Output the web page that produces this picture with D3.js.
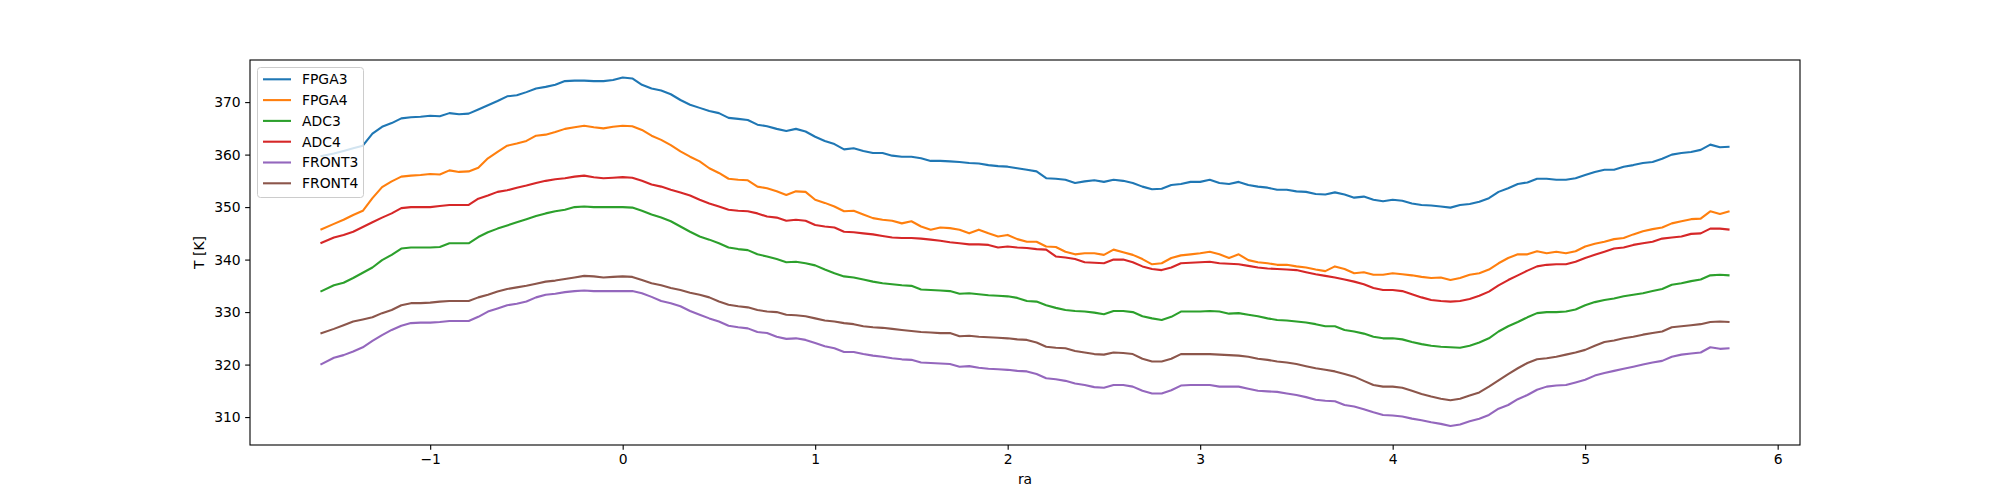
<!DOCTYPE html>
<html>
<head>
<meta charset="utf-8">
<script src="https://cdn.jsdelivr.net/npm/d3@7"></script>
<style>
  body { margin: 0; background: #fff; }
  svg { font-family: "DejaVu Sans", sans-serif; }
</style>
</head>
<body>
<svg id="viz"></svg>
<script>
let width = 2000;
let height = 500;
let margin = { left: 250, right: 200, top: 60, bottom: 55 };

// right ascension samples
const ra = [-1.57, -1.50, -1.45, -1.40, -1.35, -1.30, -1.25, -1.20, -1.15, -1.10, -1.05, -1.00, -0.95, -0.90, -0.85, -0.80, -0.75, -0.70, -0.65, -0.60, -0.55, -0.50, -0.45, -0.40, -0.35, -0.30, -0.25, -0.20, -0.15, -0.10, -0.05,
    0.00, 0.05, 0.10, 0.15, 0.20, 0.25, 0.30, 0.35, 0.40, 0.45, 0.50, 0.55, 0.60, 0.65, 0.70, 0.75, 0.80, 0.85, 0.90, 0.95,
    1.00, 1.05, 1.10, 1.15, 1.20, 1.25, 1.30, 1.35, 1.40, 1.45, 1.50, 1.55, 1.60, 1.65, 1.70, 1.75, 1.80, 1.85, 1.90, 1.95,
    2.00, 2.05, 2.10, 2.15, 2.20, 2.25, 2.30, 2.35, 2.40, 2.45, 2.50, 2.55, 2.60, 2.65, 2.70, 2.75, 2.80, 2.85, 2.90, 2.95,
    3.00, 3.05, 3.10, 3.15, 3.20, 3.25, 3.30, 3.35, 3.40, 3.45, 3.50, 3.55, 3.60, 3.65, 3.70, 3.75, 3.80, 3.85, 3.90, 3.95,
    4.00, 4.05, 4.10, 4.15, 4.20, 4.25, 4.30, 4.35, 4.40, 4.45, 4.50, 4.55, 4.60, 4.65, 4.70, 4.75, 4.80, 4.85, 4.90, 4.95,
    5.00, 5.05, 5.10, 5.15, 5.20, 5.25, 5.30, 5.35, 5.40, 5.45, 5.50, 5.55, 5.60, 5.65, 5.70, 5.75];

const fpga3 = [359.7, 360.2, 360.7, 361.2, 361.7, 364.0, 365.3, 366.0, 366.9, 367.1, 367.2, 367.4, 367.3, 367.9, 367.7, 367.8, 368.6, 369.4, 370.2, 371.1, 371.3, 371.9, 372.6, 372.9, 373.3, 374.0, 374.1, 374.1, 374.0, 374.0, 374.2,
    374.7, 374.5, 373.3, 372.6, 372.2, 371.5, 370.4, 369.5, 368.9, 368.3, 367.9, 367.0, 366.8, 366.6, 365.7, 365.4, 364.9, 364.5, 364.9, 364.4,
    363.4, 362.6, 362.0, 361.0, 361.2, 360.7, 360.3, 360.3, 359.8, 359.6, 359.6, 359.3, 358.8, 358.8, 358.7, 358.6, 358.4, 358.3, 358.0, 357.8,
    357.7, 357.4, 357.1, 356.8, 355.5, 355.4, 355.2, 354.6, 354.9, 355.1, 354.8, 355.2, 355.0, 354.6, 353.9, 353.4, 353.5, 354.2, 354.4, 354.8,
    354.8, 355.2, 354.6, 354.4, 354.8, 354.2, 353.9, 353.7, 353.3, 353.3, 353.0, 352.9, 352.5, 352.4, 352.8, 352.4, 351.8, 352.0, 351.4, 351.1,
    351.4, 351.2, 350.7, 350.4, 350.3, 350.1, 349.9, 350.4, 350.6, 351.0, 351.7, 352.9, 353.6, 354.4, 354.7, 355.4, 355.4, 355.2, 355.2, 355.5,
    356.1, 356.7, 357.1, 357.1, 357.7, 358.0, 358.4, 358.6, 359.2, 360.0, 360.3, 360.5, 360.9, 361.9, 361.4, 361.5];

const fpga4 = [345.7, 346.8, 347.6, 348.5, 349.3, 351.7, 353.8, 354.9, 355.8, 356.0, 356.1, 356.3, 356.2, 357.0, 356.7, 356.8, 357.5, 359.3, 360.5, 361.7, 362.1, 362.6, 363.6, 363.8, 364.3, 364.9, 365.2, 365.5, 365.2, 365.0, 365.3,
    365.5, 365.4, 364.7, 363.6, 362.8, 361.8, 360.6, 359.6, 358.7, 357.4, 356.5, 355.4, 355.2, 355.1, 353.9, 353.6, 353.0, 352.3, 353.0, 352.9,
    351.4, 350.8, 350.1, 349.2, 349.3, 348.6, 347.9, 347.6, 347.4, 346.9, 347.3, 346.3, 345.7, 346.1, 346.0, 345.7, 345.0, 345.7, 345.0, 344.4,
    344.7, 343.9, 343.4, 343.4, 342.5, 342.4, 341.5, 341.0, 341.2, 341.2, 340.9, 341.9, 341.4, 340.9, 340.1, 339.1, 339.3, 340.3, 340.8, 341.0,
    341.2, 341.5, 341.0, 340.3, 341.0, 339.9, 339.5, 339.3, 339.0, 339.0, 338.7, 338.5, 338.1, 337.8, 338.7, 338.2, 337.4, 337.6, 337.1, 337.1,
    337.4, 337.2, 337.0, 336.7, 336.5, 336.6, 336.1, 336.5, 337.1, 337.4, 338.1, 339.3, 340.3, 341.0, 341.0, 341.6, 341.2, 341.5, 341.2, 341.6,
    342.5, 343.0, 343.4, 343.9, 344.1, 344.8, 345.4, 345.8, 346.1, 346.9, 347.3, 347.7, 347.8, 349.2, 348.7, 349.2];

const adc3 = [333.9, 335.1, 335.6, 336.5, 337.5, 338.5, 339.9, 340.9, 342.1, 342.3, 342.3, 342.3, 342.4, 343.1, 343.1, 343.1, 344.3, 345.2, 345.9, 346.5, 347.1, 347.7, 348.3, 348.8, 349.2, 349.5, 350.0, 350.1, 350.0, 350.0, 350.0,
    350.0, 349.9, 349.3, 348.6, 348.0, 347.3, 346.3, 345.3, 344.4, 343.8, 343.1, 342.3, 342.0, 341.8, 341.0, 340.6, 340.1, 339.5, 339.6, 339.3,
    338.9, 338.1, 337.4, 336.8, 336.6, 336.2, 335.8, 335.5, 335.3, 335.1, 335.0, 334.3, 334.2, 334.1, 334.0, 333.5, 333.6, 333.4, 333.2, 333.1,
    333.0, 332.7, 332.1, 332.0, 331.3, 330.8, 330.4, 330.2, 330.1, 329.9, 329.6, 330.2, 330.2, 330.0, 329.2, 328.8, 328.5, 329.1, 330.1, 330.1,
    330.1, 330.2, 330.1, 329.7, 329.8, 329.5, 329.2, 328.8, 328.5, 328.4, 328.2, 328.0, 327.7, 327.3, 327.3, 326.6, 326.3, 325.9, 325.3, 325.0,
    325.0, 324.8, 324.3, 323.9, 323.6, 323.4, 323.3, 323.2, 323.6, 324.2, 325.0, 326.3, 327.3, 328.1, 329.0, 329.8, 330.0, 330.0, 330.1, 330.5,
    331.3, 331.9, 332.3, 332.6, 333.0, 333.3, 333.6, 334.0, 334.4, 335.2, 335.5, 335.9, 336.2, 337.0, 337.1, 337.0];

const adc4 = [343.1, 344.2, 344.7, 345.3, 346.2, 347.1, 348.0, 348.8, 349.8, 350.0, 350.0, 350.0, 350.2, 350.4, 350.4, 350.4, 351.6, 352.2, 352.9, 353.2, 353.7, 354.1, 354.6, 355.0, 355.3, 355.5, 355.8, 356.0, 355.7, 355.5, 355.6,
    355.7, 355.6, 355.0, 354.3, 353.9, 353.3, 352.8, 352.2, 351.4, 350.7, 350.1, 349.5, 349.3, 349.2, 348.8, 348.2, 348.0, 347.4, 347.6, 347.4,
    346.6, 346.3, 346.1, 345.3, 345.2, 345.0, 344.8, 344.5, 344.2, 344.1, 344.1, 344.0, 343.8, 343.6, 343.3, 343.1, 342.9, 342.9, 342.8, 342.3,
    342.5, 342.3, 342.2, 342.0, 341.9, 340.6, 340.4, 340.1, 339.5, 339.4, 339.3, 340.0, 340.0, 339.5, 338.7, 338.2, 338.0, 338.5, 339.3, 339.4,
    339.5, 339.6, 339.3, 339.2, 339.1, 338.8, 338.5, 338.3, 338.2, 338.1, 338.0, 337.6, 337.2, 336.9, 336.6, 336.2, 335.8, 335.3, 334.6, 334.2,
    334.2, 334.0, 333.4, 332.8, 332.3, 332.1, 332.0, 332.1, 332.5, 333.1, 333.9, 335.1, 336.1, 337.0, 337.9, 338.7, 339.0, 339.1, 339.1, 339.6,
    340.3, 340.9, 341.5, 342.1, 342.3, 342.8, 343.1, 343.4, 344.0, 344.2, 344.4, 344.9, 345.0, 345.9, 345.9, 345.7];

const front3 = [320.0, 321.3, 321.8, 322.5, 323.3, 324.5, 325.6, 326.6, 327.4, 327.9, 328.0, 328.0, 328.1, 328.3, 328.3, 328.3, 329.1, 330.1, 330.7, 331.3, 331.6, 332.0, 332.8, 333.3, 333.5, 333.8, 334.0, 334.1, 334.0, 334.0, 334.0,
    334.0, 334.0, 333.6, 332.9, 332.1, 331.7, 331.1, 330.2, 329.5, 328.8, 328.2, 327.4, 327.1, 326.9, 326.2, 326.0, 325.3, 324.9, 325.0, 324.7,
    324.1, 323.5, 323.1, 322.4, 322.4, 322.0, 321.7, 321.5, 321.2, 321.0, 320.9, 320.4, 320.3, 320.2, 320.1, 319.6, 319.7, 319.4, 319.2, 319.1,
    319.0, 318.8, 318.7, 318.2, 317.4, 317.2, 316.9, 316.4, 316.1, 315.7, 315.6, 316.1, 316.1, 315.8, 315.0, 314.5, 314.5, 315.1, 316.0, 316.1,
    316.1, 316.1, 315.8, 315.8, 315.8, 315.4, 315.0, 314.9, 314.8, 314.5, 314.2, 313.8, 313.3, 313.1, 313.0, 312.3, 312.0, 311.5, 310.9, 310.4,
    310.3, 310.1, 309.7, 309.4, 309.0, 308.7, 308.3, 308.6, 309.2, 309.7, 310.4, 311.6, 312.3, 313.4, 314.2, 315.2, 315.8, 316.0, 316.1, 316.6,
    317.1, 317.9, 318.4, 318.8, 319.2, 319.6, 320.0, 320.4, 320.7, 321.5, 321.9, 322.1, 322.3, 323.3, 323.0, 323.1];

const front4 = [325.9, 326.8, 327.5, 328.2, 328.6, 329.0, 329.8, 330.4, 331.3, 331.7, 331.7, 331.8, 332.0, 332.1, 332.1, 332.1, 332.8, 333.3, 333.9, 334.4, 334.7, 335.0, 335.4, 335.8, 336.0, 336.3, 336.6, 336.9, 336.8, 336.6, 336.7,
    336.8, 336.7, 336.1, 335.5, 335.1, 334.6, 334.2, 333.7, 333.3, 332.8, 332.0, 331.4, 331.1, 330.9, 330.4, 330.1, 330.0, 329.5, 329.4, 329.2,
    328.8, 328.4, 328.2, 327.9, 327.7, 327.3, 327.1, 327.0, 326.8, 326.6, 326.4, 326.2, 326.1, 326.0, 326.0, 325.4, 325.5, 325.3, 325.2, 325.1,
    325.0, 324.8, 324.7, 324.2, 323.4, 323.2, 323.1, 322.6, 322.3, 322.0, 321.9, 322.3, 322.2, 322.0, 321.1, 320.6, 320.6, 321.1, 322.0, 322.0,
    322.0, 322.0, 321.9, 321.8, 321.7, 321.5, 321.1, 320.9, 320.6, 320.4, 320.1, 319.7, 319.3, 319.0, 318.7, 318.2, 317.7, 316.9, 316.1, 315.8,
    315.8, 315.6, 315.0, 314.4, 313.9, 313.5, 313.2, 313.5, 314.1, 314.7, 315.8, 317.0, 318.2, 319.3, 320.3, 321.0, 321.2, 321.5, 321.9, 322.3,
    322.8, 323.6, 324.3, 324.6, 325.0, 325.3, 325.7, 326.0, 326.3, 327.1, 327.3, 327.5, 327.7, 328.1, 328.2, 328.1];

const seriesNames = ["FPGA3", "FPGA4", "ADC3", "ADC4", "FRONT3", "FRONT4"];
const seriesValues = [fpga3, fpga4, adc3, adc4, front3, front4];
const colors = ["#1f77b4", "#ff7f0e", "#2ca02c", "#d62728", "#9467bd", "#8c564b"];

const xTicks = [-1, 0, 1, 2, 3, 4, 5, 6];
const yTicks = [310, 320, 330, 340, 350, 360, 370];

let svg = d3.select("#viz")
    .attr("width", width)
    .attr("height", height);

let plotW = width - margin.left - margin.right;
let plotH = height - margin.top - margin.bottom;

// matplotlib style 5% padding around the data
let xExt = d3.extent(ra);
let allVals = seriesValues.flat();
let yExt = d3.extent(allVals);
let xPad = (xExt[1] - xExt[0]) * 0.05;
let yPad = (yExt[1] - yExt[0]) * 0.05;

let x = d3.scaleLinear()
    .domain([xExt[0] - xPad, xExt[1] + xPad])
    .range([margin.left, margin.left + plotW]);

let y = d3.scaleLinear()
    .domain([yExt[0] - yPad - 0.3, yExt[1] + yPad])
    .range([margin.top + plotH, margin.top]);

let tickLen = 4.86;
let fontSize = "13.9px";

let line = d3.line()
    .x(d => x(d[0]))
    .y(d => y(d[1]));

let plot = svg.append("g");
seriesValues.forEach((vals, i) => {
    plot.append("path")
        .datum(ra.map((r, j) => [r, vals[j]]))
        .attr("fill", "none")
        .attr("stroke", colors[i])
        .attr("stroke-width", 2.1)
        .attr("stroke-linejoin", "round")
        .attr("d", line);
});

// axes
let xAxis = svg.append("g")
    .attr("transform", `translate(0,${margin.top + plotH})`)
    .call(d3.axisBottom(x).tickValues(xTicks).tickFormat(d => d < 0 ? "\u2212" + Math.abs(d) : d)
        .tickSize(tickLen).tickPadding(4.5).tickSizeOuter(0));

let yAxis = svg.append("g")
    .attr("transform", `translate(${margin.left},0)`)
    .call(d3.axisLeft(y).tickValues(yTicks).tickSize(tickLen).tickPadding(4.5).tickSizeOuter(0));

[xAxis, yAxis].forEach(a => {
    a.select(".domain").remove();
    a.selectAll("text").style("font-size", fontSize).attr("fill", "#000")
        .style("font-family", "'DejaVu Sans', sans-serif");
    a.selectAll("line").attr("stroke", "#000").attr("stroke-width", 1.1);
});

// frame
svg.append("rect")
    .attr("x", margin.left)
    .attr("y", margin.top)
    .attr("width", plotW)
    .attr("height", plotH)
    .attr("fill", "none")
    .attr("stroke", "#000")
    .attr("stroke-width", 1.1);

svg.append("text")
    .attr("x", margin.left + plotW / 2)
    .attr("y", 484)
    .attr("text-anchor", "middle")
    .style("font-size", fontSize)
    .text("ra");

svg.append("text")
    .attr("transform", `translate(204,${margin.top + plotH / 2}) rotate(-90)`)
    .attr("text-anchor", "middle")
    .style("font-size", fontSize)
    .text("T [K]");

// legend
let legend = svg.append("g");
legend.append("rect")
    .attr("x", 257.5)
    .attr("y", 67.5)
    .attr("width", 106)
    .attr("height", 130)
    .attr("rx", 3)
    .attr("fill", "#fff")
    .attr("fill-opacity", 0.8)
    .attr("stroke", "#cccccc")
    .attr("stroke-width", 1);

seriesNames.forEach((name, i) => {
    let ly = 79.3 + i * 20.8;
    legend.append("line")
        .attr("x1", 263)
        .attr("x2", 291)
        .attr("y1", ly)
        .attr("y2", ly)
        .attr("stroke", colors[i])
        .attr("stroke-width", 2.1);
    legend.append("text")
        .attr("x", 302)
        .attr("y", ly)
        .attr("dy", "0.35em")
        .style("font-size", fontSize)
        .text(name);
});
</script>
</body>
</html>
